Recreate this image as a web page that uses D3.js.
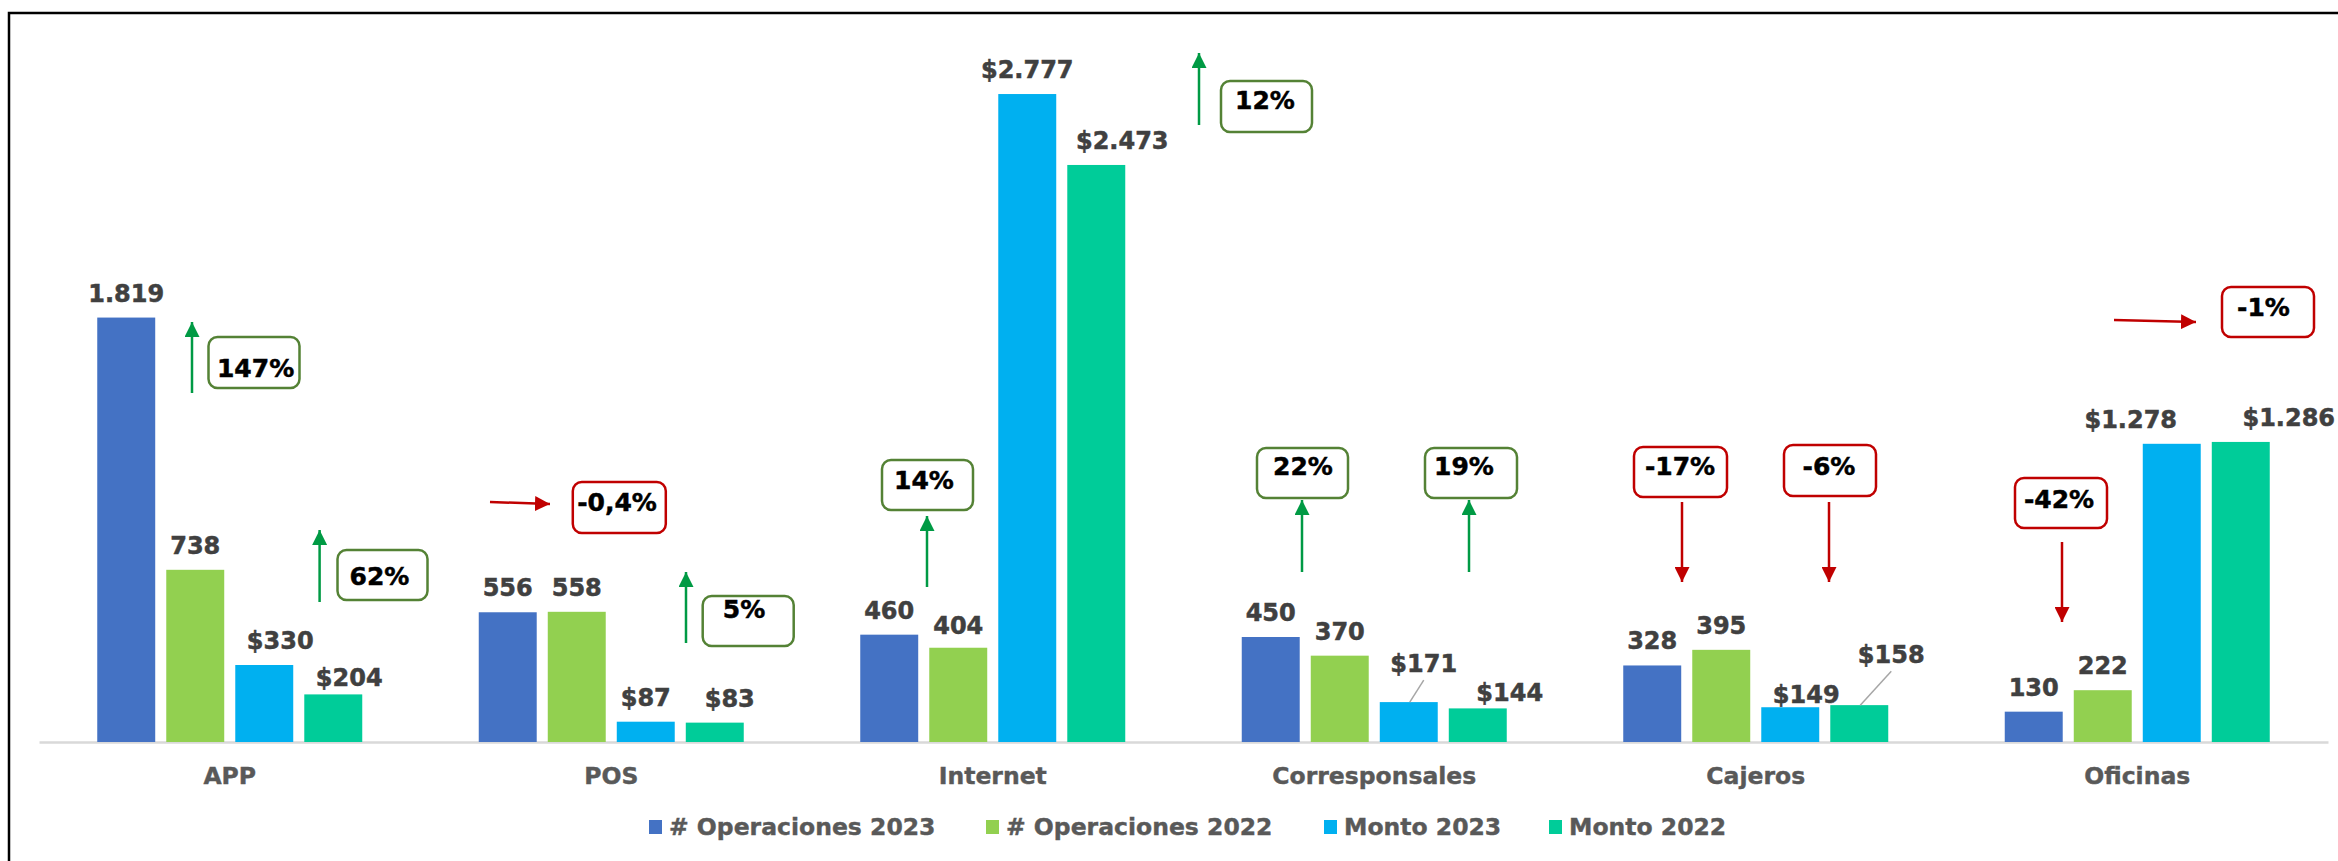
<!DOCTYPE html>
<html>
<head>
<meta charset="utf-8">
<script src="https://cdn.jsdelivr.net/npm/d3@7"></script>
<style>
	body { margin: 0; background: #fff; }
	text { font-family: "DejaVu Sans", Verdana, sans-serif; font-weight: bold; }
</style>
</head>
<body>
<div id="chart-area"></div>
<script>
// data
let categories = ["APP", "POS", "Internet", "Corresponsales", "Cajeros", "Oficinas"];
let seriesNames = ["# Operaciones 2023", "# Operaciones 2022", "Monto 2023", "Monto 2022"];
let ops2023   = [1819, 556, 460, 450, 328, 130];
let ops2022   = [738, 558, 404, 370, 395, 222];
let monto2023 = [330, 87, 2777, 171, 149, 1278];
let monto2022 = [204, 83, 2473, 144, 158, 1286];
// variation labels: [operaciones, monto] per category
let changeOps   = ["147%", "-0,4%", "14%", "22%", "-17%", "-42%"];
let changeMonto = ["62%", "5%", "12%", "19%", "-6%", "-1%"];

// SVG Size
let width  = 2338,
	height = 861;

let colors = ["#4472C4", "#92D050", "#00B0F0", "#00CC99"];
let seriesValues = [ops2023, ops2022, monto2023, monto2022];

// label nudges (px) where the label was moved by hand in the original
let labelNudge = {
	"APP|2": [16, 0], "APP|3": [16, 8],
	"POS|3": [15, 0],
	"Internet|1": [0, 2], "Internet|3": [26, 0],
	"Corresponsales|2": [15, -14], "Corresponsales|3": [32, 9],
	"Cajeros|2": [16, 12], "Cajeros|3": [32, -26],
	"Oficinas|2": [-41, 0], "Oficinas|3": [48, 0]
};
let leaderLines = ["Corresponsales|2", "Cajeros|3"];

let svg = d3.select("#chart-area")
	.append("svg")
	.attr("width", width)
	.attr("height", height);

// frame
svg.append("rect")
	.attr("x", 9).attr("y", 13)
	.attr("width", 2400).attr("height", 900)
	.attr("fill", "none")
	.attr("stroke", "#000")
	.attr("stroke-width", 2.5);

// scales
let x0 = d3.scaleBand()
	.domain(categories)
	.range([39, 2328]);

let bw = x0.bandwidth();
let x1 = d3.scaleBand()
	.domain(d3.range(4))
	.range([(bw - 265) / 2, (bw + 265) / 2])
	.paddingInner(0.16);

let y = d3.scaleLinear()
	.domain([0, 3000])
	.range([742, 42]);

let rows = [];
categories.forEach((c, i) => {
	seriesValues.forEach((s, k) => rows.push({cat: c, k: k, value: s[i]}));
});

// axis
let xAxis = d3.axisBottom(x0).tickSize(0).tickSizeOuter(0).tickPadding(25);
let gx = svg.append("g")
	.attr("class", "axis x-axis")
	.attr("transform", "translate(0," + y(0) + ")")
	.call(xAxis);
gx.select(".domain").attr("stroke", "#D9D9D9").attr("stroke-width", 2.5);
gx.selectAll("text")
	.attr("fill", "#595959")
	.attr("stroke", "#595959")
	.attr("stroke-width", 0.4)
	.style("font-size", "23.5px")
	.style("font-family", "DejaVu Sans")
	.style("font-weight", "bold");

// bars
svg.selectAll("rect.bar")
	.data(rows)
	.enter()
	.append("rect")
	.attr("class", "bar")
	.attr("x", d => x0(d.cat) + x1(d.k))
	.attr("y", d => y(d.value))
	.attr("width", x1.bandwidth())
	.attr("height", d => y(0) - y(d.value))
	.attr("fill", d => colors[d.k]);

// value labels
let fmtNum = d3.formatLocale({decimal: ",", thousands: ".", grouping: [3], currency: ["$", ""]}).format(",d");
let nudge = d => labelNudge[d.cat + "|" + d.k] || [0, 0];
let barMid = d => x0(d.cat) + x1(d.k) + x1.bandwidth() / 2;
let labelY = d => y(d.value) - 16 + nudge(d)[1];

svg.selectAll("line.leader")
	.data(rows.filter(d => leaderLines.includes(d.cat + "|" + d.k)))
	.enter()
	.append("line")
	.attr("class", "leader")
	.attr("x1", d => barMid(d) + 1)
	.attr("y1", d => y(d.value))
	.attr("x2", d => barMid(d) + nudge(d)[0])
	.attr("y2", d => labelY(d) + 8)
	.attr("stroke", "#A6A6A6")
	.attr("stroke-width", 1.5);

svg.selectAll("text.value")
	.data(rows)
	.enter()
	.append("text")
	.attr("class", "value")
	.attr("x", d => barMid(d) + nudge(d)[0])
	.attr("y", labelY)
	.attr("text-anchor", "middle")
	.attr("fill", "#404040")
	.attr("stroke", "#404040")
	.attr("stroke-width", 0.5)
	.style("font-size", "24px")
	.text(d => (d.k >= 2 ? "$" : "") + fmtNum(d.value));

// variation call-outs (offsets from the category band start)
// type: up / down / right ; ax1, ax2 = arrow x from/to ; ay1, ay2 = arrow y from/to
let notes = [
	{cat: "APP", text: changeOps[0], bx: 169.5, by: 337, bw: 91, bh: 51, tx: 216.6, ty: 368, type: "up", ax1: 153, ax2: 153, ay1: 393, ay2: 322},
	{cat: "APP", text: changeMonto[0], bx: 298.5, by: 550, bw: 90, bh: 50, tx: 340.5, ty: 576, type: "up", ax1: 280.6, ax2: 280.6, ay1: 602, ay2: 530},
	{cat: "POS", text: changeOps[1], bx: 152.3, by: 482, bw: 93, bh: 51, tx: 196.5, ty: 502, type: "right", ax1: 69.5, ax2: 129.5, ay1: 502, ay2: 504},
	{cat: "POS", text: changeMonto[1], bx: 282.2, by: 596, bw: 91, bh: 50, tx: 323.5, ty: 609, type: "up", ax1: 265.5, ax2: 265.5, ay1: 643, ay2: 572},
	{cat: "Internet", text: changeOps[2], bx: 80, by: 460, bw: 91, bh: 50, tx: 122, ty: 480, type: "up", ax1: 125, ax2: 125, ay1: 587, ay2: 516},
	{cat: "Internet", text: changeMonto[2], bx: 419, by: 81, bw: 91, bh: 51, tx: 463, ty: 100, type: "up", ax1: 397, ax2: 397, ay1: 125, ay2: 53},
	{cat: "Corresponsales", text: changeOps[3], bx: 73.5, by: 448, bw: 91, bh: 50, tx: 119.5, ty: 466, type: "up", ax1: 118.5, ax2: 118.5, ay1: 572, ay2: 500},
	{cat: "Corresponsales", text: changeMonto[3], bx: 241.5, by: 448, bw: 92, bh: 50, tx: 280.5, ty: 466, type: "up", ax1: 285.5, ax2: 285.5, ay1: 572, ay2: 500},
	{cat: "Cajeros", text: changeOps[4], bx: 69, by: 447, bw: 93, bh: 50, tx: 115, ty: 466, type: "down", ax1: 117, ax2: 117, ay1: 502, ay2: 582},
	{cat: "Cajeros", text: changeMonto[4], bx: 219, by: 445, bw: 92, bh: 51, tx: 264, ty: 466, type: "down", ax1: 264, ax2: 264, ay1: 502, ay2: 582},
	{cat: "Oficinas", text: changeOps[5], bx: 68.5, by: 478, bw: 92, bh: 50, tx: 112.5, ty: 499, type: "down", ax1: 115.5, ax2: 115.5, ay1: 542, ay2: 622},
	{cat: "Oficinas", text: changeMonto[5], bx: 275.5, by: 287, bw: 92, bh: 50, tx: 317, ty: 307, type: "right", ax1: 167.5, ax2: 249.5, ay1: 320, ay2: 322}
];

let isUp = d => d.type == "up";
let arrowColor = d => isUp(d) ? "#009A44" : "#C00000";
let boxColor = d => isUp(d) ? "#548235" : "#C00000";

// arrowheads
let defs = svg.append("defs");
[["head-green", "#009A44"], ["head-red", "#C00000"]].forEach(h => {
	defs.append("marker")
		.attr("id", h[0])
		.attr("viewBox", "0 0 10 10")
		.attr("refX", 10).attr("refY", 5)
		.attr("markerWidth", 15).attr("markerHeight", 15)
		.attr("markerUnits", "userSpaceOnUse")
		.attr("orient", "auto")
		.append("path")
		.attr("d", "M0,0 L10,5 L0,10 Z")
		.attr("fill", h[1]);
});

let ng = svg.selectAll("g.note")
	.data(notes)
	.enter()
	.append("g")
	.attr("class", "note")
	.attr("transform", d => "translate(" + x0(d.cat) + ",0)");

ng.append("line")
	.attr("x1", d => d.ax1).attr("x2", d => d.ax2)
	.attr("y1", d => d.ay1).attr("y2", d => d.ay2)
	.attr("stroke", arrowColor)
	.attr("stroke-width", 2.5)
	.attr("marker-end", d => isUp(d) ? "url(#head-green)" : "url(#head-red)");

ng.append("rect")
	.attr("x", d => d.bx).attr("y", d => d.by)
	.attr("width", d => d.bw).attr("height", d => d.bh)
	.attr("rx", 9).attr("ry", 9)
	.attr("fill", "#fff")
	.attr("stroke", boxColor)
	.attr("stroke-width", 2.5);

ng.append("text")
	.attr("x", d => d.tx)
	.attr("y", d => d.ty)
	.attr("dy", "0.36em")
	.attr("text-anchor", "middle")
	.attr("fill", "#000")
	.attr("stroke", "#000")
	.attr("stroke-width", 0.5)
	.style("font-size", "25px")
	.text(d => d.text);

// legend
let legendX = [649, 986, 1324, 1549];
let lg = svg.selectAll("g.legend")
	.data(seriesNames)
	.enter()
	.append("g")
	.attr("class", "legend")
	.attr("transform", (d, i) => "translate(" + legendX[i] + ",820)");

lg.append("rect")
	.attr("width", 13).attr("height", 14)
	.attr("fill", (d, i) => colors[i]);

lg.append("text")
	.attr("x", 20)
	.attr("y", 7)
	.attr("dy", "0.36em")
	.attr("fill", "#595959")
	.attr("stroke", "#595959")
	.attr("stroke-width", 0.4)
	.style("font-size", "23.5px")
	.text(d => d);
</script>
</body>
</html>
